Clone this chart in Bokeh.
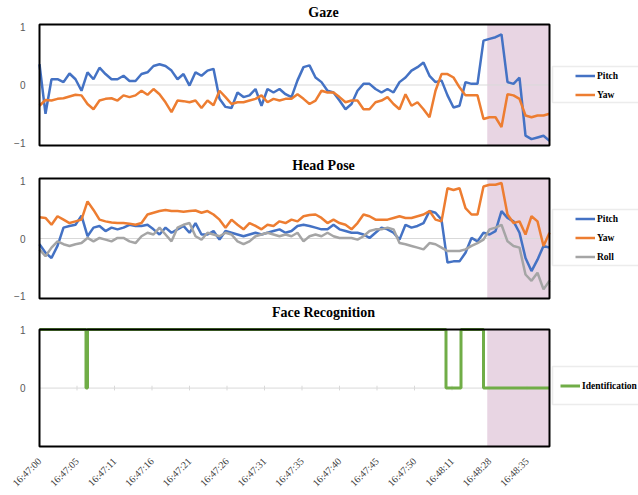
import numpy as np
from math import pi
from bokeh.plotting import figure
from bokeh.models import (FixedTicker, BoxAnnotation, Legend, LegendItem, Label, Range1d)
from bokeh.layouts import column
from bokeh.embed import file_html
from bokeh.resources import INLINE

# ---------------- data ----------------
tick_index = [0, 50, 100, 150, 200, 250, 300, 350, 400, 450, 500, 550, 600, 650]
tick_labels = ["16:47:00", "16:47:05", "16:47:11", "16:47:16", "16:47:21", "16:47:26",
               "16:47:31", "16:47:35", "16:47:40", "16:47:45", "16:47:50", "16:48:11",
               "16:48:28", "16:48:35"]
n_frames = 680          # last sample index
sample_step = 8         # sample spacing (frames)
shade_start = 597       # start of highlighted interval (frame index)

gaze_pitch = [0.36, -0.5, 0.1, 0.1, 0.05, 0.2, 0.1, -0.1, 0.22, 0.1, 0.3, 0.19, 0.1, 0.1, 0.16,
              0.07, 0.07, 0.19, 0.22, 0.33, 0.36, 0.33, 0.25, 0.1, 0.19, -0.01, 0.22, 0.16, 0.25,
              0.28, -0.24, -0.38, -0.4, -0.13, -0.21, -0.18, -0.07, -0.36, -0.07, -0.13, -0.07,
              -0.16, -0.21, 0.08, 0.31, 0.34, 0.13, 0.05, -0.1, -0.13, -0.27, -0.42, -0.33, -0.1,
              0.02, 0.02, -0.07,
              -0.13, -0.07, -0.13, 0.05, 0.13, 0.25, 0.31, 0.39, 0.16, 0.05, 0.08, -0.18, -0.39,
              -0.36, 0.05, 0.02, 0.02, 0.77, 0.8, 0.83, 0.88, 0.05, 0.02, 0.13, -0.88, -0.94,
              -0.91, -0.88, -0.97]
gaze_yaw = [-0.36, -0.26, -0.27, -0.24, -0.23, -0.2, -0.17, -0.18, -0.33, -0.42, -0.27, -0.24,
            -0.23, -0.27, -0.18, -0.21, -0.18, -0.1, -0.17, -0.07, -0.16, -0.3, -0.47, -0.27,
            -0.28, -0.3, -0.27, -0.4, -0.27,
            -0.35, -0.1, -0.21, -0.33, -0.3, -0.3, -0.27, -0.24, -0.18, -0.3, -0.24, -0.27,
            -0.24, -0.24, -0.16, -0.24, -0.33, -0.27, -0.1, -0.13, -0.13, -0.21, -0.3, -0.27,
            -0.27, -0.42, -0.42, -0.3,
            -0.27, -0.21, -0.33, -0.42, -0.16, -0.36, -0.3, -0.42, -0.56, -0.1, 0.19, 0.19,
            0.13, -0.04, -0.18, -0.18, -0.18, -0.59, -0.56, -0.56, -0.73, -0.16, -0.18, -0.24,
            -0.53, -0.56, -0.53, -0.53, -0.5]

head_pitch = [-0.1, -0.25, -0.34, -0.13, 0.19, 0.22, 0.24, 0.4, 0.04, 0.19, 0.22, 0.13, 0.19,
              0.16, 0.19, 0.24, 0.22, 0.22, 0.24, 0.16, 0.07, 0.19, 0.1, 0.16, 0.22, 0.1, 0.27,
              0.07, 0.07,
              0.13, -0.02, 0.13, 0.1, 0.07, 0.04, 0.07, 0.1, 0.07, 0.1, 0.13, 0.16, 0.1, 0.13,
              0.22, 0.24, 0.22, 0.19, 0.16, 0.16, 0.24, 0.16, 0.13, 0.1, 0.1, 0.07, 0.01, 0.1,
              0.19, 0.16, 0.1, -0.02, 0.24, 0.19, 0.22, 0.27, 0.48, 0.45, 0.33, -0.42, -0.4,
              -0.4, -0.25, 0.01, -0.05, 0.1, 0.07, 0.13, 0.48, 0.36, 0.3, 0.1, -0.34, -0.57,
              -0.37, -0.13, -0.16]
head_yaw = [0.37, 0.36, 0.24, 0.39, 0.33, 0.27, 0.3, 0.33, 0.65, 0.5, 0.33, 0.3, 0.28, 0.27,
            0.27, 0.26, 0.24, 0.27, 0.42, 0.45, 0.48, 0.5, 0.48, 0.48, 0.47, 0.48, 0.49, 0.45,
            0.48,
            0.42, 0.33, 0.19, 0.33, 0.24, 0.16, 0.27, 0.22, 0.16, 0.24, 0.22, 0.3, 0.27, 0.33,
            0.3, 0.39, 0.41, 0.42, 0.36, 0.27, 0.33, 0.27, 0.24, 0.16, 0.27, 0.42, 0.39, 0.33,
            0.33, 0.33, 0.36, 0.39, 0.36, 0.36, 0.39, 0.42, 0.48, 0.33, 0.3, 0.88, 0.85, 0.88,
            0.53, 0.42, 0.42, 0.91, 0.94, 0.94, 0.97, 0.42, 0.27, 0.3, 0.07, 0.39, 0.3, -0.13,
            0.1]
head_roll = [-0.19, -0.31, -0.16, -0.05, -0.1, -0.13, -0.1, -0.08, 0.01, -0.05, 0.01, -0.02,
             -0.05, 0.01, 0.01, -0.05, -0.08, 0.04, 0.1, 0.07, 0.19, 0.07, -0.05, 0.19, 0.24,
             0.27, 0.04, -0.02, 0.1,
             0.07, 0.04, 0.1, 0.07, -0.05, -0.1, -0.05, 0.04, 0.07, 0.1, 0.07, 0.04, 0.07, 0.04,
             0.1, -0.05, 0.04, 0.07, 0.04, 0.1, 0.04, 0.01, 0.01, 0.01, -0.02, 0.04, 0.13, 0.16,
             0.16, 0.19, 0.16, -0.08, -0.1, -0.13, -0.16, -0.19, -0.08, -0.1, -0.16, -0.22,
             -0.22, -0.22, -0.19, -0.13, -0.08, -0.02, 0.16, 0.19, 0.24, -0.05, -0.13, -0.16,
             -0.63, -0.74, -0.6, -0.89, -0.74]

face_change_index = [0, 62, 64, 542, 562, 592, 680]
face_identification = [1, 0, 1, 0, 1, 0, 0]

BLUE, ORANGE, GRAY, GREEN = "#4472C4", "#ED7D31", "#A5A5A5", "#70AD47"
SHADE = "#E8D5E3"

# ---------------- layout (pixels) ----------------
W = 638
PLOT_LEFT = 39          # left edge of plot box
PLOT_W = 510            # plot box width
FRAME_LEFT = PLOT_LEFT - 2
XS = PLOT_W / n_frames  # px per frame
X_START = -(PLOT_LEFT - FRAME_LEFT) / XS
X_END = n_frames + (W - PLOT_LEFT - PLOT_W) / XS


def panel(top_pad, plot_h, bot_pad, below, y0, y1, yticks):
    unit = plot_h / (y1 - y0)
    height = top_pad + plot_h + bot_pad + below
    p = figure(width=W, height=height, output_backend="svg", toolbar_location=None,
               x_range=Range1d(X_START, X_END),
               y_range=Range1d(y0 - bot_pad / unit, y1 + top_pad / unit),
               min_border_left=FRAME_LEFT, min_border_right=0,
               min_border_top=0, min_border_bottom=below)
    p.outline_line_color = None
    p.background_fill_color = "white"
    p.xgrid.visible = False
    p.ygrid.visible = False
    p.yaxis.ticker = FixedTicker(ticks=yticks)
    p.yaxis.axis_line_color = None
    p.yaxis.major_tick_line_color = None
    p.yaxis.minor_tick_line_color = None
    p.yaxis.major_label_text_font = "Liberation Sans"
    p.yaxis.major_label_text_font_size = "10px"
    p.yaxis.major_label_text_color = "#595959"
    p.yaxis.major_label_standoff = 6
    # highlighted interval
    p.add_layout(BoxAnnotation(left=shade_start, right=n_frames, bottom=y0, top=y1,
                               fill_color=SHADE, fill_alpha=1, line_color=None, level="image"))
    # horizontal gridline at 0
    p.segment(x0=[0], x1=[n_frames], y0=[0], y1=[0], line_color="#D9D9D9", line_width=1)
    return p, y0, y1, top_pad + plot_h + bot_pad


def frame_box(p, y0, y1):
    p.quad(left=[0], right=[n_frames], bottom=[y0], top=[y1], fill_color=None,
           line_color="black", line_width=2)


def add_title(p, text, y):
    p.add_layout(Label(x=323 - FRAME_LEFT, y=y, x_units="screen", y_units="screen",
                       text=text, text_align="center", text_baseline="middle",
                       text_font="Liberation Serif", text_font_style="bold",
                       text_font_size="14px", text_color="black"))


def add_legend(p, items, gx, ly, box_bottom, box_top):
    p.add_layout(BoxAnnotation(left=552 - FRAME_LEFT, right=W + 50, bottom=box_bottom, top=box_top,
                               left_units="screen", right_units="screen",
                               bottom_units="screen", top_units="screen",
                               fill_color="white", fill_alpha=1, line_color="#BFBFBF",
                               line_width=1.5, level="overlay"))
    leg = Legend(items=items, location=(gx - FRAME_LEFT, ly), border_line_color=None,
                 background_fill_alpha=0, padding=0, spacing=0, margin=0,
                 glyph_width=20, glyph_height=19, label_height=19, label_standoff=2,
                 label_text_font="Liberation Serif", label_text_font_style="bold",
                 label_text_font_size="9.5px", label_text_color="black")
    p.add_layout(leg, "center")


x = np.arange(len(gaze_pitch)) * sample_step

# ---- Gaze ----  (canvas rows 0..150)
p1, a0, a1, fh1 = panel(24, 121, 5, 0, -1.05, 1.05, [-1, 0, 1])
p1.xaxis.visible = False
g1 = p1.line(x, gaze_pitch, line_color=BLUE, line_width=2.5)
g2 = p1.line(x, gaze_yaw, line_color=ORANGE, line_width=2.5)
frame_box(p1, a0, a1)
add_title(p1, "Gaze", fh1 - 12)
add_legend(p1, [LegendItem(label="Pitch", renderers=[g1]), LegendItem(label="Yaw", renderers=[g2])],
           575, fh1 - 104, fh1 - 102, fh1 - 66)

# ---- Head Pose ----  (canvas rows 150..303)
p2, b0, b1, fh2 = panel(28, 120, 5, 0, -1.05, 1.05, [-1, 0, 1])
p2.xaxis.visible = False
h1 = p2.line(x, head_pitch, line_color=BLUE, line_width=2.5)
h2 = p2.line(x, head_yaw, line_color=ORANGE, line_width=2.5)
h3 = p2.line(x, head_roll, line_color=GRAY, line_width=2.5)
frame_box(p2, b0, b1)
add_title(p2, "Head Pose", fh2 - 15)
add_legend(p2, [LegendItem(label="Pitch", renderers=[h1]), LegendItem(label="Yaw", renderers=[h2]),
                LegendItem(label="Roll", renderers=[h3])],
           575, fh2 - 116, fh2 - 115, fh2 - 59)

# ---- Face Recognition ----  (canvas rows 303..495)
p3, c0, c1, fh3 = panel(27, 121, 2, 42, -1.0, 1.0, [0, 1])
p3.segment(x0=tick_index, x1=tick_index, y0=[-0.04] * len(tick_index), y1=[0.04] * len(tick_index),
           line_color="#D9D9D9", line_width=1)
f1 = p3.step(face_change_index, face_identification, mode="after", line_color=GREEN, line_width=3)
frame_box(p3, c0, c1)
p3.xaxis.ticker = FixedTicker(ticks=tick_index)
p3.xaxis.major_label_overrides = {i: l for i, l in zip(tick_index, tick_labels)}
p3.xaxis.major_label_orientation = pi / 4
p3.xaxis.axis_line_color = None
p3.xaxis.major_tick_line_color = None
p3.xaxis.minor_tick_line_color = None
p3.xaxis.major_label_text_font = "Liberation Serif"
p3.xaxis.major_label_text_font_size = "10px"
p3.xaxis.major_label_text_color = "#404040"
p3.xaxis.major_label_standoff = 5
add_title(p3, "Face Recognition", fh3 - 14)
add_legend(p3, [LegendItem(label="Identification", renderers=[f1])],
           560, fh3 - 97, fh3 - 106, fh3 - 68)

layout = column(p1, p2, p3, spacing=0)
open("out.html", "w").write(file_html(layout, INLINE))
